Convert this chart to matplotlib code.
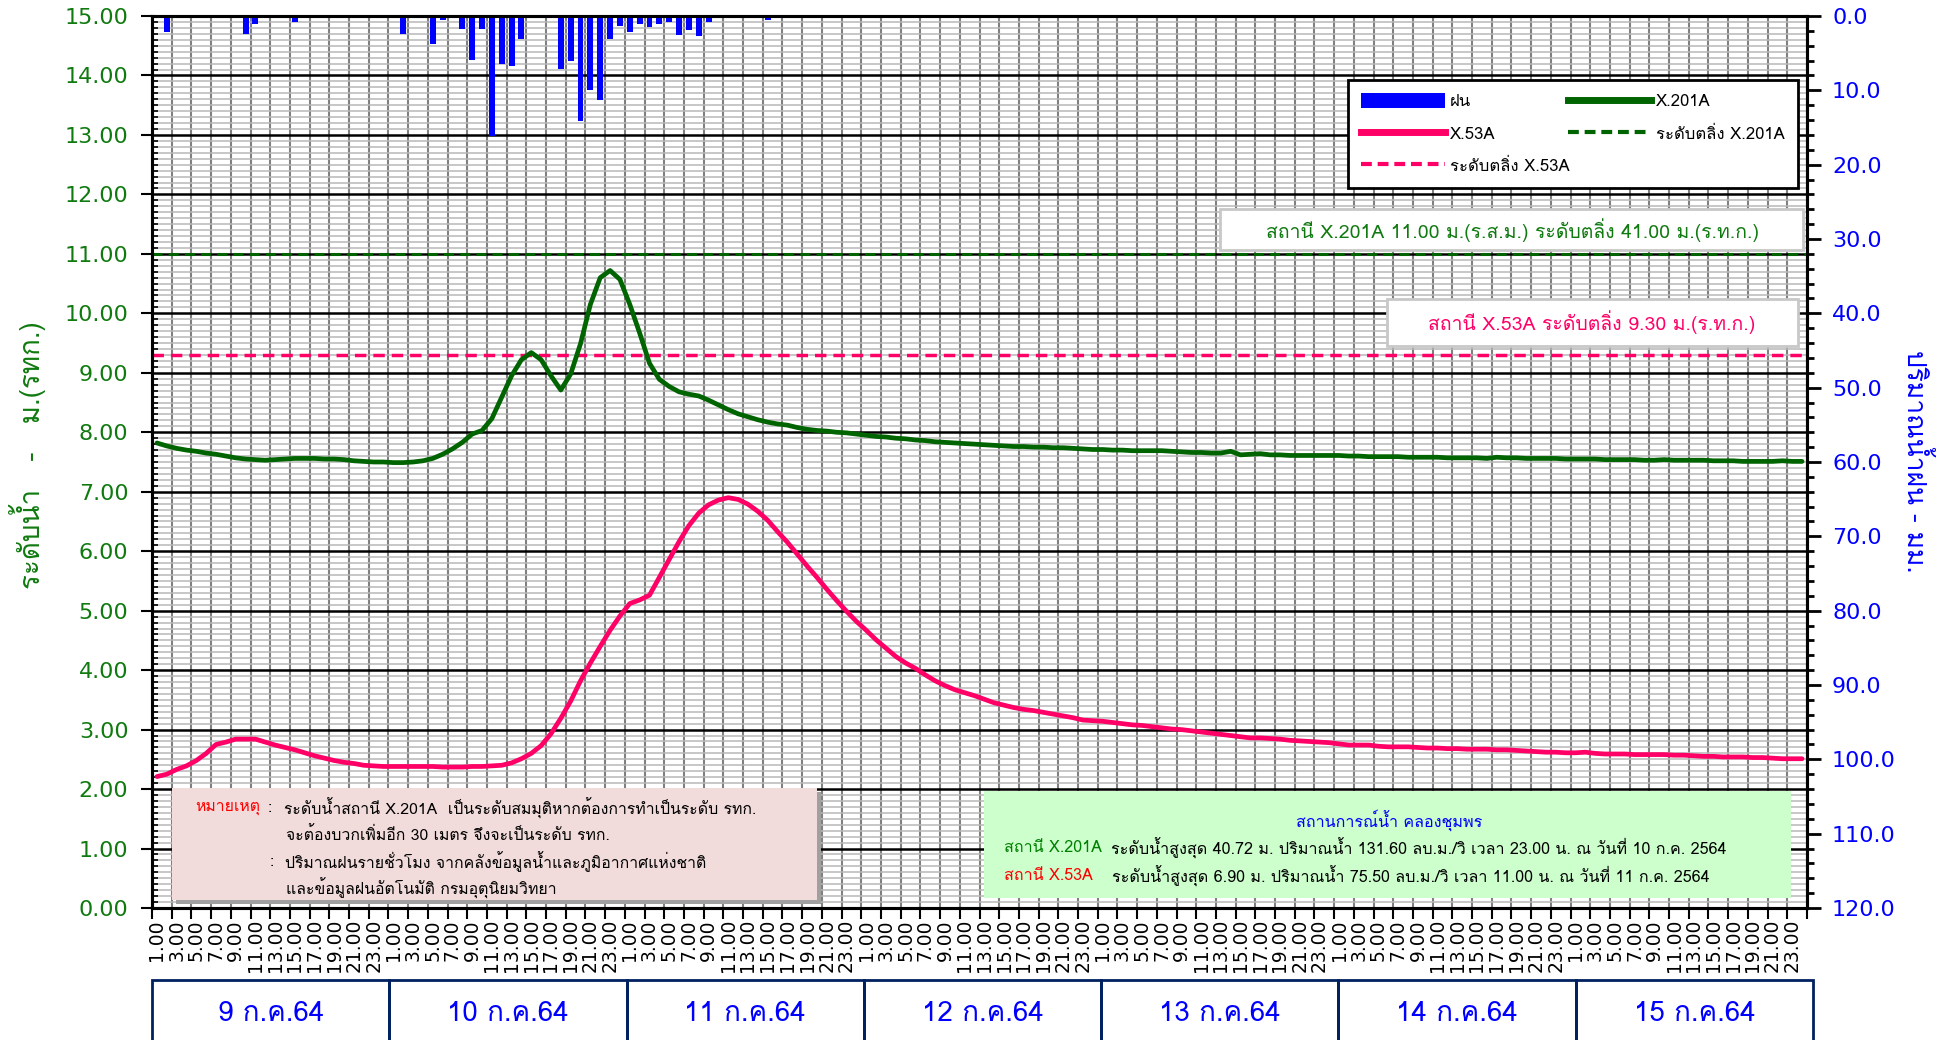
import numpy as np
import matplotlib
matplotlib.use("Agg")
import matplotlib.pyplot as plt
from matplotlib.patches import Rectangle, Patch
from matplotlib.lines import Line2D
from matplotlib.ticker import (MultipleLocator, FixedLocator, NullFormatter,
                               FixedFormatter, FormatStrFormatter)

# Thai text needs a font with Thai glyphs; digits/latin fall back to DejaVu
FAM = ["Loma", "DejaVu Sans"]

# ── data ──────────────────────────────────────────────────────────────────────
DAYS = ["9 ก.ค.64", "10 ก.ค.64", "11 ก.ค.64", "12 ก.ค.64",
        "13 ก.ค.64", "14 ก.ค.64", "15 ก.ค.64"]
HOUR_LABELS = ["1.00", "3.00", "5.00", "7.00", "9.00", "11.00",
               "13.00", "15.00", "17.00", "19.00", "21.00", "23.00"]

# hourly water level (m), 9-15 Jul 2021, hour 1.00 .. 24.00 each day
X201A = [
    7.82, 7.77, 7.73, 7.70, 7.68, 7.65, 7.63, 7.60, 7.57, 7.55, 7.54, 7.53,
    7.54, 7.55, 7.56, 7.56, 7.56, 7.55, 7.55, 7.54, 7.52, 7.51, 7.50, 7.50,
    7.49, 7.49, 7.50, 7.52, 7.56, 7.63, 7.72, 7.83, 7.97, 8.03, 8.23, 8.59,
    8.95, 9.22, 9.34, 9.22, 8.95, 8.71, 8.98, 9.49, 10.15, 10.60, 10.72, 10.57,
    10.15, 9.67, 9.16, 8.89, 8.77, 8.68, 8.64, 8.61, 8.54, 8.46, 8.38, 8.31,
    8.26, 8.21, 8.17, 8.14, 8.12, 8.08, 8.05, 8.03, 8.02, 8.00, 7.99, 7.97,
    7.95, 7.93, 7.92, 7.90, 7.89, 7.87, 7.86, 7.84, 7.83, 7.82, 7.81, 7.80,
    7.79, 7.78, 7.77, 7.76, 7.76, 7.75, 7.75, 7.74, 7.74, 7.73, 7.72, 7.71,
    7.71, 7.70, 7.70, 7.69, 7.69, 7.69, 7.69, 7.68, 7.67, 7.66, 7.66, 7.65,
    7.65, 7.68, 7.62, 7.63, 7.64, 7.62, 7.62, 7.61, 7.61, 7.61, 7.61, 7.61,
    7.61, 7.60, 7.60, 7.59, 7.59, 7.59, 7.59, 7.58, 7.58, 7.58, 7.58, 7.57,
    7.57, 7.57, 7.57, 7.56, 7.58, 7.57, 7.57, 7.56, 7.56, 7.56, 7.56, 7.55,
    7.55, 7.55, 7.55, 7.54, 7.54, 7.54, 7.54, 7.53, 7.53, 7.54, 7.53, 7.53,
    7.53, 7.53, 7.52, 7.52, 7.52, 7.51, 7.51, 7.51, 7.51, 7.52, 7.51, 7.51,
]
X53A = [
    2.21, 2.25, 2.33, 2.39, 2.48, 2.60, 2.75, 2.79, 2.84, 2.84, 2.84, 2.79,
    2.74, 2.70, 2.66, 2.61, 2.56, 2.52, 2.48, 2.45, 2.43, 2.40, 2.39, 2.38,
    2.38, 2.38, 2.38, 2.38, 2.38, 2.37, 2.37, 2.37, 2.38, 2.38, 2.39, 2.40,
    2.44, 2.51, 2.60, 2.73, 2.93, 3.19, 3.48, 3.82, 4.12, 4.40, 4.67, 4.91,
    5.12, 5.18, 5.26, 5.56, 5.86, 6.16, 6.43, 6.64, 6.78, 6.86, 6.90, 6.87,
    6.79, 6.67, 6.52, 6.33, 6.15, 5.95, 5.75, 5.56, 5.36, 5.17, 4.99, 4.82,
    4.67, 4.51, 4.37, 4.23, 4.12, 4.03, 3.92, 3.82, 3.74, 3.67, 3.62, 3.57,
    3.51, 3.45, 3.41, 3.37, 3.34, 3.32, 3.29, 3.26, 3.23, 3.20, 3.16, 3.15,
    3.14, 3.12, 3.10, 3.08, 3.07, 3.05, 3.03, 3.01, 3.00, 2.98, 2.96, 2.94,
    2.92, 2.90, 2.88, 2.86, 2.86, 2.85, 2.84, 2.82, 2.81, 2.80, 2.79, 2.78,
    2.76, 2.74, 2.74, 2.74, 2.72, 2.71, 2.71, 2.71, 2.70, 2.69, 2.69, 2.68,
    2.68, 2.67, 2.67, 2.67, 2.66, 2.66, 2.65, 2.64, 2.63, 2.62, 2.62, 2.61,
    2.61, 2.62, 2.60, 2.59, 2.59, 2.59, 2.58, 2.58, 2.58, 2.58, 2.57, 2.57,
    2.56, 2.55, 2.55, 2.54, 2.54, 2.54, 2.53, 2.53, 2.52, 2.51, 2.51, 2.51,
]
# hourly rainfall (mm)
RAIN = [
    0, 2.1, 0, 0, 0, 0, 0, 0, 0, 2.4, 1.1, 0, 0, 0, 0.8, 0, 0, 0, 0, 0, 0, 0, 0, 0,
    0, 2.4, 0, 0, 3.7, 0.5, 0.3, 1.8, 5.9, 1.8, 16.1, 6.5, 6.7, 3.1, 0.3, 0, 0, 7.1, 6.1, 14.1, 9.9, 11.3, 3.1, 1.3,
    2.1, 1.1, 1.5, 1.1, 0.8, 2.5, 1.9, 2.7, 0.8, 0.3, 0.3, 0, 0, 0, 0.5, 0.3, 0.3, 0, 0, 0, 0, 0, 0, 0,
    0, 0, 0, 0, 0, 0, 0, 0, 0, 0, 0, 0, 0, 0, 0, 0, 0, 0, 0, 0, 0, 0, 0, 0,
    0, 0, 0, 0, 0, 0, 0, 0, 0, 0, 0, 0, 0, 0, 0, 0, 0, 0, 0, 0, 0, 0, 0, 0,
    0, 0, 0, 0, 0, 0, 0, 0, 0, 0, 0, 0, 0, 0, 0, 0, 0, 0, 0, 0, 0, 0, 0, 0,
    0, 0, 0, 0, 0, 0, 0, 0, 0, 0, 0, 0, 0, 0, 0, 0, 0, 0, 0, 0, 0, 0, 0, 0,
]
BANK_X201A = 11.00
BANK_X53A = 9.30

GREEN = "#006400"
PINK = "#ff0066"
BLUE = "#0000ff"
TXT_GREEN = "#107a10"

W, H = 1953, 1040


def fx(px):
    return px / W


def fy(py):
    return 1 - py / H


fig = plt.figure(figsize=(W / 100, H / 100), dpi=100, facecolor="white")

# ── main axes (water level) ───────────────────────────────────────────────────
ax = fig.add_axes([fx(152), fy(908), fx(1807) - fx(152), fy(16) - fy(908)])
x = np.arange(len(X201A))
ax.set_xlim(-0.5, len(x) - 0.5)
ax.set_ylim(0, 15)
ax.set_axisbelow(True)

# ticks on hour boundaries, labels centred on every second hour
ax.xaxis.set_major_locator(FixedLocator(np.arange(-0.5, len(x), 2)))
ax.xaxis.set_minor_locator(FixedLocator(x[::2]))
ax.xaxis.set_major_formatter(NullFormatter())
ax.xaxis.set_minor_formatter(FixedFormatter(HOUR_LABELS * len(DAYS)))
ax.tick_params(axis="x", which="minor", length=0, labelsize=13.5,
               labelrotation=90, pad=8)
ax.tick_params(axis="x", which="major", length=8, width=1.5, direction="out")

ax.yaxis.set_major_locator(MultipleLocator(1))
ax.yaxis.set_minor_locator(MultipleLocator(0.1))
ax.yaxis.set_major_formatter(FormatStrFormatter("%.2f"))
ax.tick_params(axis="y", which="major", length=8, width=1.5, pad=9,
               labelsize=16, labelcolor=TXT_GREEN)
ax.tick_params(axis="y", which="minor", length=4, width=1.2, direction="in")

ax.grid(which="major", axis="x", color="#808080", lw=1.5)
ax.grid(which="major", axis="y", color="black", lw=1.8)
ax.grid(which="minor", axis="y", color="#b8b8b8", lw=1.1)

for sp in ax.spines.values():
    sp.set_linewidth(2.2)

ax.axhline(BANK_X201A, color=GREEN, lw=2.2, ls=(0, (3.3, 2.0)))
ax.axhline(BANK_X53A, color=PINK, lw=2.5, ls=(0, (3.3, 2.0)))
ax.plot(x, X201A, color=GREEN, lw=3.4, solid_capstyle="round")
ax.plot(x, X53A, color=PINK, lw=3.4, solid_capstyle="round")

# ── rainfall (inverted right axis) ────────────────────────────────────────────
ax2 = ax.twinx()
ax2.set_ylim(120, 0)
ax2.bar(x, RAIN, width=0.6, color=BLUE)
ax2.yaxis.set_major_locator(MultipleLocator(10))
ax2.yaxis.set_minor_locator(MultipleLocator(2))
ax2.yaxis.set_major_formatter(FormatStrFormatter("%.1f"))
ax2.tick_params(axis="y", which="major", length=10, width=2,
                labelsize=16, labelcolor=BLUE, pad=8)
ax2.tick_params(axis="y", which="minor", length=5, width=2)
for sp in ax2.spines.values():
    sp.set_linewidth(2.2)

fig.text(fx(28), fy(455), "ระดับน้ำ   -   ม.(รทก.)", rotation=90,
         ha="center", va="center", color=TXT_GREEN, fontsize=20, family=FAM)
fig.text(fx(1916), fy(461), "ปริมาณน้ำฝน - มม.", rotation=270,
         ha="center", va="center", color=BLUE, fontsize=19, family=FAM)

# ── legend ────────────────────────────────────────────────────────────────────
handles = [
    Patch(facecolor=BLUE, label="ฝน"),
    Line2D([], [], color=PINK, lw=5, label="X.53A"),
    Line2D([], [], color=PINK, lw=3, ls=(0, (2.6, 1.4)), label="ระดับตลิ่ง X.53A"),
    Line2D([], [], color=GREEN, lw=5, label="X.201A"),
    Line2D([], [], color=GREEN, lw=3, ls=(0, (2.6, 1.4)), label="ระดับตลิ่ง X.201A"),
]
leg = fig.legend(handles=handles, ncol=2, loc="upper left",
                 bbox_to_anchor=(fx(1348), fy(80), fx(1798) - fx(1348), 0),
                 mode="expand", fancybox=False, edgecolor="black",
                 framealpha=1, handlelength=5.0, handleheight=1.0,
                 handletextpad=0.3, labelspacing=0.9, borderaxespad=0,
                 borderpad=0.8, prop={"family": FAM, "size": 12})
leg.get_frame().set_linewidth(2)


# ── text boxes ────────────────────────────────────────────────────────────────
def box(x0, y0, x1, y1, fc, ec="none", lw=1.5, shadow=False):
    if shadow:
        fig.add_artist(Rectangle((fx(x0 + 4), fy(y1 + 4)), fx(x1 - x0), fy(y0) - fy(y1),
                                 transform=fig.transFigure, fc="#a0a0a0", ec="none"))
    fig.add_artist(Rectangle((fx(x0), fy(y1)), fx(x1 - x0), fy(y0) - fy(y1),
                             transform=fig.transFigure, fc=fc, ec=ec, lw=lw))


def txt(px, py, s, color="black", size=11.4, ha="left"):
    fig.text(fx(px), fy(py), s, ha=ha, va="center", color=color,
             fontsize=size, family=FAM)


box(1220, 209, 1803, 250, "white", "#c8c8c8", 2)
txt(1513, 230, "สถานี X.201A 11.00 ม.(ร.ส.ม.) ระดับตลิ่ง 41.00 ม.(ร.ท.ก.)",
    TXT_GREEN, 14, "center")
box(1387, 299, 1798, 346, "white", "#c8c8c8", 2)
txt(1592, 322, "สถานี X.53A ระดับตลิ่ง 9.30 ม.(ร.ท.ก.)", PINK, 14, "center")

box(172, 788, 817, 900, "#f2dcdb", shadow=True)
txt(195, 808, "หมายเหตุ", "#ff0000")
txt(268, 808, ":")
txt(284, 808, "ระดับน้ำสถานี X.201A  เป็นระดับสมมุติหากต้องการทำเป็นระดับ รทก.")
txt(286, 835, "จะต้องบวกเพิ่มอีก 30 เมตร จึงจะเป็นระดับ รทก.")
txt(270, 862, ":")
txt(285, 862, "ปริมาณฝนรายชั่วโมง จากคลังข้อมูลน้ำและภูมิอากาศแห่งชาติ")
txt(286, 888, "และข้อมูลฝนอัตโนมัติ กรมอุตุนิยมวิทยา")

box(984, 791, 1791, 898, "#ccffcc")
txt(1389, 820, "สถานการณ์น้ำ คลองชุมพร", BLUE, 11.6, "center")
txt(1004, 848, "สถานี X.201A", "#008000", 11.6)
txt(1111, 848, "ระดับน้ำสูงสุด 40.72 ม. ปริมาณน้ำ 131.60 ลบ.ม./วิ เวลา 23.00 น. ณ วันที่ 10 ก.ค. 2564", "black", 11.6)
txt(1004, 876, "สถานี X.53A", "#ff0000", 11.6)
txt(1112, 876, "ระดับน้ำสูงสุด 6.90 ม. ปริมาณน้ำ 75.50 ลบ.ม./วิ เวลา 11.00 น. ณ วันที่ 11 ก.ค. 2564", "black", 11.6)

# ── date boxes under the hour labels ──────────────────────────────────────────
axd = fig.add_axes([fx(152), fy(1060), fx(1813) - fx(152), fy(980) - fy(1060)])
axd.set_xlim(-0.5, len(DAYS) * 24 - 0.5)
axd.set_ylim(0, 1)
axd.axis("off")
for d, lbl in enumerate(DAYS):
    axd.add_patch(Rectangle((d * 24 - 0.5, 0), 24, 1, fill=False,
                            ec="#002060", lw=2, clip_on=False))
    axd.text(d * 24 + 11.5, 0.58, lbl, ha="center", va="center",
             color=BLUE, fontsize=20, family=FAM)

fig.savefig("out.png", dpi=100, facecolor="white")
